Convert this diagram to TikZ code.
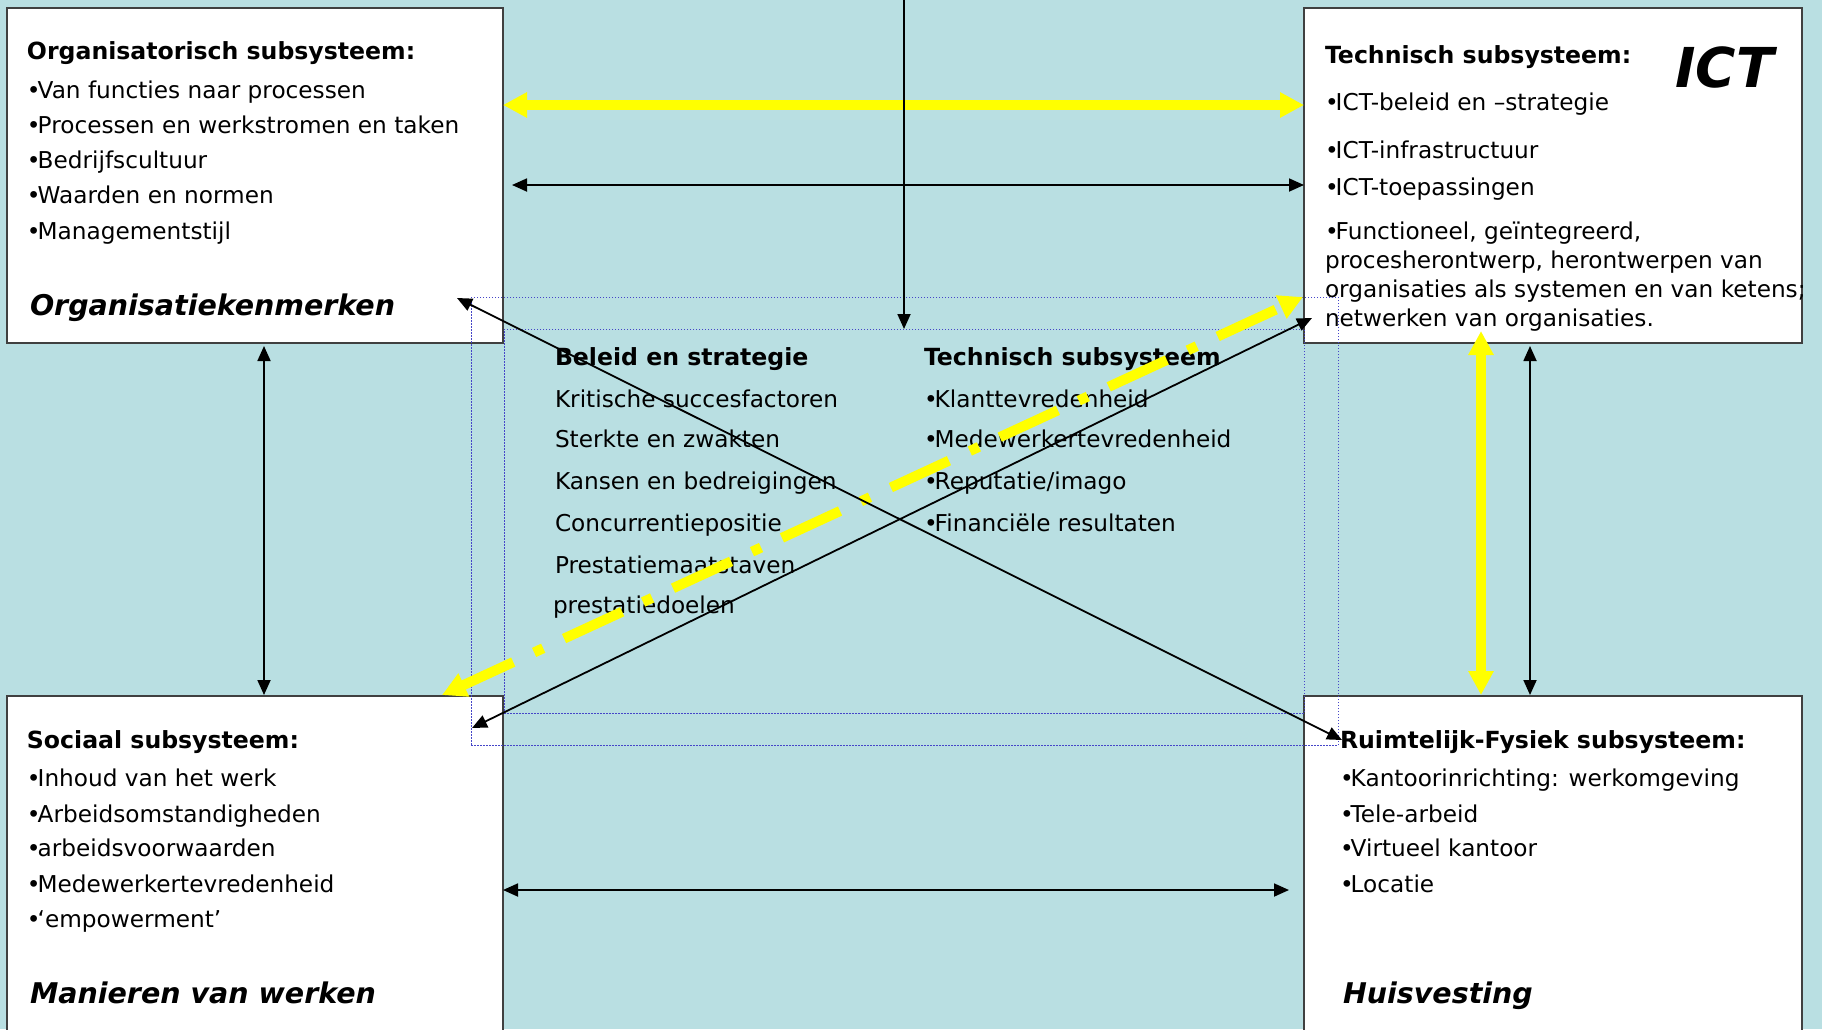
\documentclass[tikz,border=0pt]{standalone}
\usepackage{fontspec}
\setmainfont{DejaVu Sans}
\usetikzlibrary{arrows.meta}
\definecolor{bgc}{RGB}{185,223,226}
\definecolor{bordc}{RGB}{64,64,64}
\definecolor{dotc}{RGB}{70,70,200}
\definecolor{ylw}{RGB}{255,255,0}
\newcommand\fnorm{\fontsize{23.2}{28}\selectfont}
\newcommand\fhead{\fontsize{23.6}{28}\selectfont\bfseries}
\newcommand\flabel{\fontsize{28.5}{33}\selectfont\bfseries\itshape}
\newcommand\bul{•\kern-3pt}
\begin{document}
\begin{tikzpicture}[x=1pt,y=-1pt,
  box/.style={draw=bordc,line width=1.5pt,fill=white,anchor=north west,inner sep=0pt,outer sep=0pt,minimum width=#1},
  dotbox/.style={draw=dotc,line width=1pt,dash pattern=on 1.5pt off 1.5pt,anchor=north west,inner sep=0pt,outer sep=0pt},
  txt/.style={anchor=base west,inner sep=0pt,outer sep=0pt,font=\fnorm},
  hd/.style={anchor=base west,inner sep=0pt,outer sep=0pt,font=\fhead},
  lbl/.style={anchor=base west,inner sep=0pt,outer sep=0pt,font=\flabel},
  blk/.style={draw=black,line width=1.8pt,arrows={Triangle[length=15pt,width=13pt]-Triangle[length=15pt,width=13pt]}},
  blkone/.style={draw=black,line width=1.8pt,-{Triangle[length=15pt,width=13pt]}},
  yel/.style={draw=ylw,line width=10pt,arrows={Triangle[length=24pt,width=24pt]-Triangle[length=24pt,width=24pt]}}
]
\clip (0,0) rectangle (1822,1029);
\fill[bgc] (0,0) rectangle (1822,1029);

% boxes
\node[box=496pt,minimum height=335pt] (org) at (7,8) {};
\node[box=498pt,minimum height=335pt] (ict) at (1304,8) {};
\node[box=496pt,minimum height=360pt] (soc) at (7,696) {};
\node[box=498pt,minimum height=360pt] (ruim) at (1304,696) {};

% organisatorisch
\node[hd] (o0) at (27,59) {Organisatorisch subsysteem:};
\node[txt] (o1) at (27,98) {\bul Van functies naar processen};
\node[txt] (o2) at (27,133) {\bul Processen en werkstromen en taken};
\node[txt] (o3) at (27,168) {\bul Bedrijfscultuur};
\node[txt] (o4) at (27,203) {\bul Waarden en normen};
\node[txt] (o5) at (27,239) {\bul Managementstijl};
\node[lbl] (o6) at (30,315) {Organisatiekenmerken};

% technisch
\node[hd] (i0) at (1325,63) {Technisch subsysteem:};
\node[anchor=base west,inner sep=0pt,font=\fontsize{55}{60}\selectfont\bfseries\itshape] (i9) at (1675,87) {ICT};
\node[txt] (i1) at (1325,110) {\bul ICT-beleid en –strategie};
\node[txt] (i2) at (1325,158) {\bul ICT-infrastructuur};
\node[txt] (i3) at (1325,195) {\bul ICT-toepassingen};
\node[txt] (i4) at (1325,239) {\bul Functioneel, geïntegreerd,};
\node[txt] (i5) at (1325,268) {procesherontwerp, herontwerpen van};
\node[txt] (i6) at (1325,297) {organisaties als systemen en van ketens;};
\node[txt] (i7) at (1325,326) {netwerken van organisaties.};

% sociaal
\node[hd] (s0) at (27,748) {Sociaal subsysteem:};
\node[txt] (s1) at (27,786) {\bul Inhoud van het werk};
\node[txt] (s2) at (27,822) {\bul Arbeidsomstandigheden};
\node[txt] (s3) at (27,856) {\bul arbeidsvoorwaarden};
\node[txt] (s4) at (27,892) {\bul Medewerkertevredenheid};
\node[txt] (s5) at (27,927) {\bul ‘empowerment’};
\node[lbl] (s6) at (30,1003) {Manieren van werken};

% ruimtelijk
\node[hd] (r0) at (1340,748) {Ruimtelijk-Fysiek subsysteem:};
\node[txt] (r1) at (1340,786) {\bul Kantoorinrichting: werkomgeving};
\node[txt] (r2) at (1340,822) {\bul Tele-arbeid};
\node[txt] (r3) at (1340,856) {\bul Virtueel kantoor};
\node[txt] (r4) at (1340,892) {\bul Locatie};
\node[lbl] (r6) at (1343,1003) {Huisvesting};

% centre
\node[hd] (c0) at (555,365) {Beleid en strategie};
\node[txt] (c1) at (555,407) {Kritische succesfactoren};
\node[txt] (c2) at (555,447) {Sterkte en zwakten};
\node[txt] (c3) at (555,489) {Kansen en bedreigingen};
\node[txt] (c4) at (555,531) {Concurrentiepositie};
\node[txt] (c5) at (555,573) {Prestatiemaatstaven};
\node[txt] (c6) at (553,613) {prestatiedoelen};
\node[hd] (d0) at (924,365) {Technisch subsysteem};
\node[txt] (d1) at (924,407) {\bul Klanttevredenheid};
\node[txt] (d2) at (924,447) {\bul Medewerkertevredenheid};
\node[txt] (d3) at (924,489) {\bul Reputatie/imago};
\node[txt] (d4) at (924,531) {\bul Financiële resultaten};

% dotted frames
\node[dotbox,minimum width=867pt,minimum height=448pt] (outer) at (471,297) {};
\node[dotbox,minimum width=800pt,minimum height=384pt] (inner) at (504,329) {};

% coordinates
\coordinate (vtop) at (904,-5);
\coordinate (d1a) at (457,298);
\coordinate (d1b) at (1342,740);
\coordinate (d2a) at (472,728);
\coordinate (d2b) at (1312,318);
\coordinate (ya) at (442,695);
\coordinate (yb) at (1303,297);
\coordinate (hbl) at (512,185);
\coordinate (hbr) at (1289,890);
\coordinate (lvt) at (264,346);
\coordinate (lvb) at (264,695);
\coordinate (rvt) at (1530,346);
\coordinate (rvb) at (1530,695);
\coordinate (yvt) at (1481,331);
\coordinate (yvb) at (1481,695);

% yellow arrows
\draw[yel] (org.east |- 0,105) -- (ict.west |- 0,105);
\draw[yel] (yvt) -- (yvb);
\draw[yel,dash pattern=on 64pt off 23pt on 10pt off 23pt,dash phase=8pt] (ya) -- (yb);

% black arrows
\draw[blkone] (vtop) -- (inner.north);
\draw[blk] (hbl) -- (ict.west |- hbl);
\draw[blk] (soc.east |- hbr) -- (hbr);
\draw[blk] (lvt) -- (lvb);
\draw[blk] (rvt) -- (rvb);
\draw[blk] (d1a) -- (d1b);
\draw[blk] (d2a) -- (d2b);
\end{tikzpicture}
\end{document}
